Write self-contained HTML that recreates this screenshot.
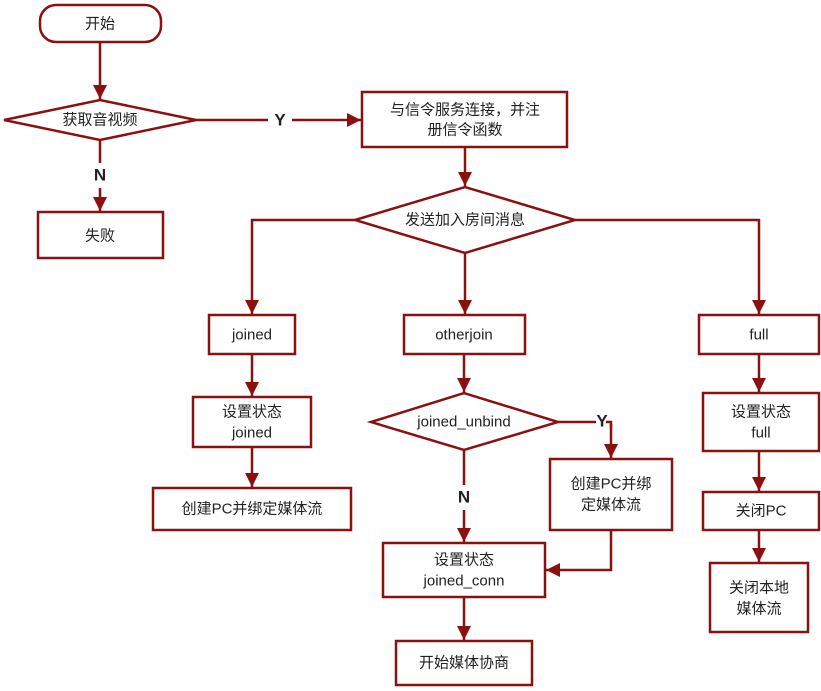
<!DOCTYPE html>
<html><head><meta charset="utf-8"><style>
html,body{margin:0;padding:0;background:#fff;}
svg{display:block;}
text{font-family:"Liberation Sans","Noto Sans CJK SC",sans-serif;font-size:15px;fill:#222;text-anchor:middle;dominant-baseline:central;}
.b{font-weight:bold;font-size:17px;}
</style></head><body>
<svg width="821" height="691" viewBox="0 0 821 691" xmlns="http://www.w3.org/2000/svg">
<defs>
<marker id="ah" viewBox="0 0 10 10" markerWidth="14" markerHeight="16" refX="10" refY="5" orient="auto" markerUnits="userSpaceOnUse"><path d="M0,0 L10,5 L0,10 z" fill="#8b1111"/></marker></defs>
<g fill="none" stroke="#8b1111" stroke-width="2.5">
<rect x="40" y="5" width="121" height="37" rx="16"/>
<polygon points="4,120 100,100 196,120 100,140"/>
<rect x="38" y="212" width="125" height="46"/>
<rect x="362" y="92" width="205" height="55"/>
<polygon points="355,220 465,187 575,220 465,253"/>
<rect x="209" y="315" width="86" height="39"/>
<rect x="193" y="397" width="118" height="50"/>
<rect x="153" y="488" width="198" height="42"/>
<rect x="404" y="315" width="121" height="39"/>
<polygon points="371,422 464,393 558,422 464,450"/>
<rect x="550" y="459" width="122" height="71"/>
<rect x="383" y="543" width="162" height="54"/>
<rect x="396" y="641" width="136" height="44"/>
<rect x="699" y="315" width="120" height="39"/>
<rect x="703" y="393" width="116" height="58"/>
<rect x="703" y="492" width="116" height="38"/>
<rect x="710" y="563" width="98" height="69"/>
<path d="M100,140 V163"/>
<path d="M196,120 H268"/>
<path d="M558,422 H596"/>
<path d="M464,450 V485"/>
</g>
<g fill="none" stroke="#8b1111" stroke-width="2.5" marker-end="url(#ah)">
<path d="M100,42 V99"/>
<path d="M100,188 V211"/>
<path d="M292,120 H361"/>
<path d="M465,147 V186"/>
<path d="M355,220 H252 V314"/>
<path d="M465,253 V314"/>
<path d="M575,220 H759 V314"/>
<path d="M252,354 V396"/>
<path d="M252,447 V487"/>
<path d="M464,354 V392"/>
<path d="M611,424 V458"/>
<path d="M464,510 V542"/>
<path d="M611,530 V570 H546"/>
<path d="M464,597 V640"/>
<path d="M759,354 V392"/>
<path d="M759,451 V491"/>
<path d="M759,530 V562"/>
</g>
<path d="M606,422 H611 V428" fill="none" stroke="#8b1111" stroke-width="2.5"/>
<text x="100" y="24">开始</text>
<text x="100" y="120">获取音视频</text>
<text class="b" x="280" y="120">Y</text>
<text class="b" x="100" y="175">N</text>
<text x="100" y="236">失败</text>
<text x="465" y="110">与信令服务连接，并注</text>
<text x="465" y="130">册信令函数</text>
<text x="465" y="220">发送加入房间消息</text>
<text x="252" y="335">joined</text>
<text x="252" y="412">设置状态</text>
<text x="252" y="433">joined</text>
<text x="252" y="509">创建PC并绑定媒体流</text>
<text x="464" y="335">otherjoin</text>
<text x="464" y="422">joined_unbind</text>
<text class="b" x="602" y="421">Y</text>
<text class="b" x="464" y="497">N</text>
<text x="611" y="484">创建PC并绑</text>
<text x="611" y="505">定媒体流</text>
<text x="464" y="560">设置状态</text>
<text x="464" y="581">joined_conn</text>
<text x="464" y="663">开始媒体协商</text>
<text x="759" y="335">full</text>
<text x="761" y="412">设置状态</text>
<text x="761" y="433">full</text>
<text x="761" y="511">关闭PC</text>
<text x="759" y="588">关闭本地</text>
<text x="759" y="609">媒体流</text>
</svg>
</body></html>
